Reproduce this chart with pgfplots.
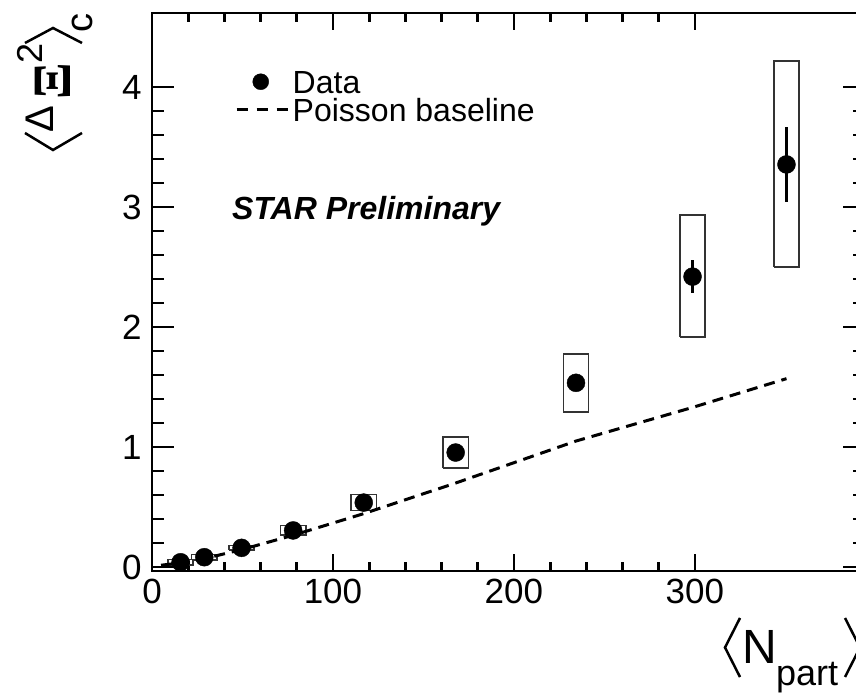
\documentclass[border=0pt]{standalone}
\usepackage{fontspec}
\setmainfont{Liberation Sans}
\newfontfamily\seriffont{Liberation Serif}
\usepackage{pgfplots}
\usepackage{pgfplotstable}
\pgfplotsset{compat=1.18}

\pgfplotstableread{
x y stat
15.8 0.040 0
28.9 0.082 0
49.5 0.160 0
78.0 0.305 0
117.0 0.537 0
167.8 0.954 0
234.3 1.535 0.04
298.7 2.420 0.14
350.6 3.355 0.31
}\datatable

\pgfplotstableread{
x y
5 0.015
15.8 0.035
28.9 0.070
49.5 0.145
78.0 0.265
117.0 0.445
167.8 0.700
234.3 1.050
298.7 1.330
350.6 1.570
}\basetable

\begin{document}
\begin{tikzpicture}
\pgfplotsset{
  common/.style={
    at={(152pt,125pt)}, anchor=south west,
    scale only axis, width=713pt, height=558pt,
    xmin=0, xmax=394, ymin=-0.033, ymax=4.617,
    axis line style={line width=2.8pt, black},
    tick style={line width=2.8pt, black},
    /pgf/number format/assume math mode=true,
    ticklabel style={font=\fontsize{35}{35}\selectfont},
  },
  sysbox/.style={black!80, line width=1.6pt, forget plot, mark=none},
}
% y-ticks axis
\begin{axis}[common,
  xtick=\empty,
  ytick={0,1,2,3,4}, minor y tick num=4,
  major tick length=22pt, minor tick length=12pt,
  yticklabel style={xshift=-7pt},
]
\end{axis}
% main axis with x-ticks and data
\begin{axis}[common,
  ytick=\empty,
  xtick={0,100,200,300}, minor x tick num=4,
  major tick length=17pt, minor tick length=9pt,
  xticklabel style={yshift=-5pt},
  reverse legend,
  legend cell align=left,
  legend style={at={(axis cs:46,4.15)}, anchor=north west, draw=none, fill=none,
    font=\fontsize{32}{32}\selectfont, row sep=3pt, inner sep=0pt,
    nodes={inner sep=1pt, text height=23pt, text depth=0pt}},
]
% systematic boxes
\addplot[sysbox] coordinates {(8.8,0.018) (22.8,0.018) (22.8,0.062) (8.8,0.062) (8.8,0.018)};
\addplot[sysbox] coordinates {(21.9,0.060) (35.9,0.060) (35.9,0.104) (21.9,0.104) (21.9,0.060)};
\addplot[sysbox] coordinates {(42.5,0.140) (56.5,0.140) (56.5,0.180) (42.5,0.180) (42.5,0.140)};
\addplot[sysbox] coordinates {(71.0,0.265) (85.0,0.265) (85.0,0.345) (71.0,0.345) (71.0,0.265)};
\addplot[sysbox] coordinates {(110.0,0.470) (124.0,0.470) (124.0,0.604) (110.0,0.604) (110.0,0.470)};
\addplot[sysbox] coordinates {(160.8,0.827) (174.8,0.827) (174.8,1.085) (160.8,1.085) (160.8,0.827)};
\addplot[sysbox] coordinates {(227.3,1.293) (241.3,1.293) (241.3,1.777) (227.3,1.777) (227.3,1.293)};
\addplot[sysbox] coordinates {(291.7,1.915) (305.7,1.915) (305.7,2.932) (291.7,2.932) (291.7,1.915)};
\addplot[sysbox] coordinates {(343.6,2.502) (357.6,2.502) (357.6,4.215) (343.6,4.215) (343.6,2.502)};
% Poisson baseline
\addplot[black, line width=3pt, dash pattern=on 11pt off 7pt, mark=none,
  legend image code/.code={\path[draw=none] (0pt,0pt) -- (55pt,0pt); \draw[line width=2.6pt, dash pattern=on 11pt off 9pt] (0pt,0pt) -- (51pt,0pt);}]
  table[x=x, y=y] {\basetable};
\addlegendentry{Poisson baseline}
% data
\addplot[black, only marks, mark=*, mark size=9pt,
  error bars/.cd, y dir=both, y explicit, error mark=none,
  error bar style={line width=2.8pt, black},
  /pgfplots/legend image code/.code={\path[draw=none] (0pt,0pt) -- (55pt,0pt); \fill[black] (24pt,0pt) circle (8pt);}]
  table[x=x, y=y, y error=stat] {\datatable};
\addlegendentry{Data}
\node[anchor=base west, inner sep=0pt, font=\fontsize{32}{32}\selectfont\bfseries\itshape]
  at (axis cs:44.2,2.896) {STAR Preliminary};
\end{axis}
% y label
\begin{scope}[shift={(53pt,546pt)}, rotate=90, transform shape]
  \draw[line width=2.5pt] (17pt,28pt) -- (0pt,0pt) -- (17pt,-29pt);
  \node[anchor=base west, inner sep=0pt, font=\fontsize{40}{40}\selectfont] at (17pt,0pt) {Δ};
  \node[anchor=base west, inner sep=0pt, font=\seriffont\bfseries\fontsize{54}{54}\selectfont] at (50pt,-17pt) {Ξ};
  \node[anchor=base west, inner sep=0pt, font=\fontsize{36}{36}\selectfont] at (86pt,11pt) {2};
  \draw[line width=2.5pt] (107pt,28pt) -- (122pt,0pt) -- (107pt,-29pt);
  \node[anchor=base west, inner sep=0pt, font=\fontsize{38}{38}\selectfont] at (117pt,-39pt) {c};
\end{scope}
% x label
\draw[line width=2.5pt] (740pt,78pt) -- (725pt,48.5pt) -- (740pt,19pt);
\node[anchor=base west, inner sep=0pt, font=\fontsize{48}{48}\selectfont] at (742pt,33pt) {N};
\node[anchor=base west, inner sep=0pt, font=\fontsize{36}{36}\selectfont] at (776pt,11pt) {part};
\draw[line width=2.5pt] (845pt,78pt) -- (860pt,48.5pt) -- (845pt,19pt);
\pgfresetboundingbox
\useasboundingbox (0pt,0pt) rectangle (856pt,696pt);
\end{tikzpicture}
\end{document}
